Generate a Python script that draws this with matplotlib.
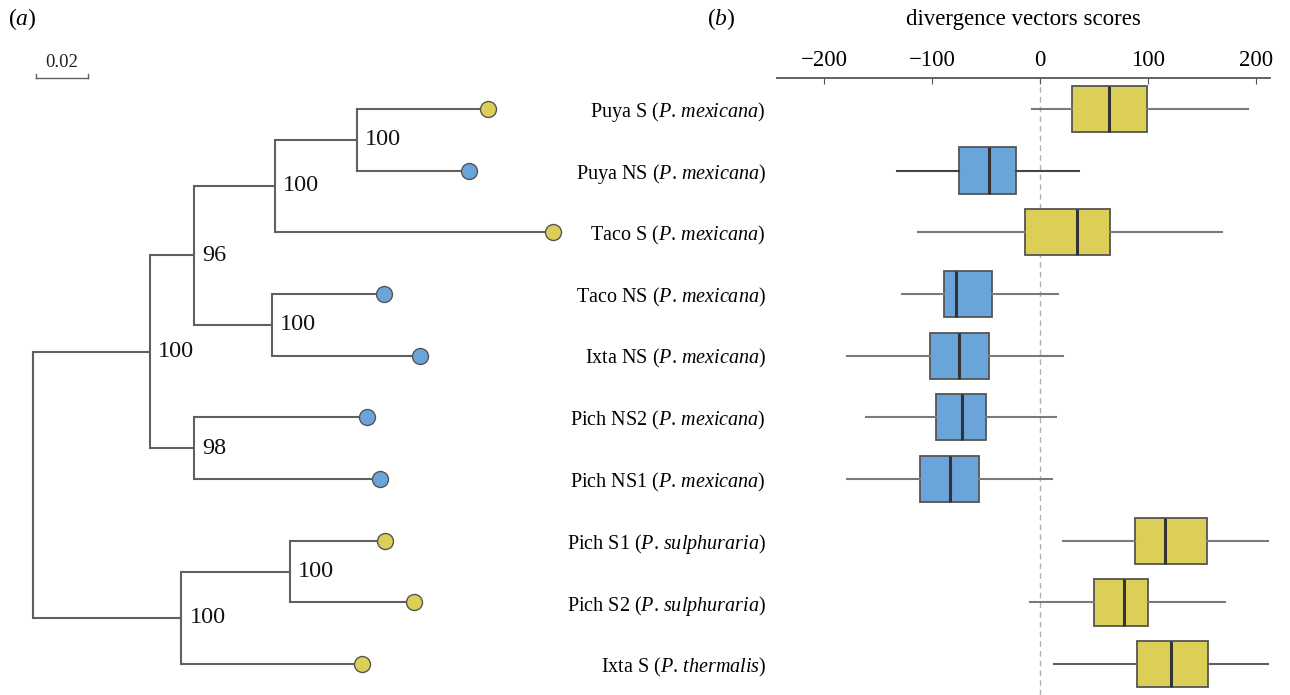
import matplotlib

matplotlib.use("Agg")
import matplotlib.pyplot as plt

plt.rcParams["font.family"] = ["Liberation Serif", "DejaVu Serif"]
plt.rcParams["mathtext.fontset"] = "custom"
plt.rcParams["mathtext.rm"] = "Liberation Serif"
plt.rcParams["mathtext.it"] = "Liberation Serif:italic"

# rows, top to bottom
POPS = ["Puya S", "Puya NS", "Taco S", "Taco NS", "Ixta NS",
        "Pich NS2", "Pich NS1", "Pich S1", "Pich S2", "Ixta S"]
SPECIES = ["mexicana"] * 7 + ["sulphuraria", "sulphuraria", "thermalis"]
HABITAT = ["S", "NS", "S", "NS", "NS", "NS", "NS", "S", "S", "S"]

# divergence vector score summaries
WHIS_LO = [-7, -132, -113, -128, -179, -161, -179, 21, -9, 13]
Q1 = [30, -75, -14, -89, -102, -96, -111, 88, 50, 90]
MED = [64, -47, 34, -78, -75, -72, -83, 116, 78, 121]
Q3 = [99, -22, 65, -44, -47, -50, -56, 155, 100, 156]
WHIS_HI = [193, 36, 169, 17, 21, 15, 11, 211, 171, 211]

# tree: tips are 0..9 (same order as rows), internal nodes 10..18
TIP_DEPTH = [0.175, 0.1677, 0.200, 0.135, 0.149, 0.1285, 0.1335, 0.1354, 0.1465, 0.1265]
NODE_CHILDREN = [(0, 1), (10, 2), (3, 4), (11, 12), (5, 6), (13, 14), (7, 8), (16, 9), (15, 17)]
NODE_DEPTH = [0.1246, 0.093, 0.0919, 0.062, 0.062, 0.045, 0.0988, 0.057, 0.0]
NODE_SUPPORT = ["100", "100", "100", "96", "98", "100", "100", "100", ""]

YELLOW = "#dccf58"
BLUE = "#6aa4d8"
COLS = {"S": YELLOW, "NS": BLUE}
LINE = "#606060"
WHISK = ["#7a7a7a", "#444444", "#7a7a7a", "#7a7a7a", "#7a7a7a",
         "#7a7a7a", "#7a7a7a", "#7a7a7a", "#7a7a7a", "#5e5e5e"]

fig = plt.figure(figsize=(12.9, 6.95), dpi=100)
H = 617 / 695

# ---- (a) tree
axt = fig.add_axes([0, 0, 600 / 1290, H])
axt.set_xlim(-33 / 2600, 567 / 2600)
axt.set_ylim(9.5, -0.5)
axt.axis("off")

xs = list(TIP_DEPTH) + NODE_DEPTH
ys = list(range(len(POPS))) + [0.0] * len(NODE_CHILDREN)
for i, (a, b) in enumerate(NODE_CHILDREN):
    n = 10 + i
    ys[n] = (ys[a] + ys[b]) / 2
    for c in (a, b):
        axt.plot([xs[n], xs[c]], [ys[c], ys[c]], color=LINE, lw=1.5, solid_capstyle="butt", zorder=1)
    axt.plot([xs[n], xs[n]], [ys[a], ys[b]], color=LINE, lw=1.5, solid_capstyle="projecting", zorder=1)
    if NODE_SUPPORT[i]:
        axt.annotate(NODE_SUPPORT[i], (xs[n], ys[n]), xytext=(6, 0), textcoords="offset points",
                     ha="left", va="center", fontsize=17.5, color="#111")

for i, h in enumerate(HABITAT):
    axt.plot(TIP_DEPTH[i], i, "o", ms=11.5, mfc=COLS[h], mec="#555", mew=1, zorder=3)

# scale bar
axt.plot([0.001, 0.021], [-0.5, -0.5], color=LINE, lw=1, clip_on=False)
for xb in (0.001, 0.021):
    axt.plot([xb, xb], [-0.5, -0.57], color=LINE, lw=1, clip_on=False)
axt.text(0.011, -0.62, "0.02", ha="center", va="bottom", fontsize=13.5, color="#222")

# ---- (b) boxplots
axb = fig.add_axes([777 / 1290, 0, 493 / 1290, H])
stats = [dict(whislo=WHIS_LO[i], q1=Q1[i], med=MED[i], q3=Q3[i], whishi=WHIS_HI[i], fliers=[])
         for i in range(len(POPS))]
bp = axb.bxp(stats, positions=range(len(POPS)), orientation="horizontal", widths=0.75,
             patch_artist=True, showcaps=False, showfliers=False,
             boxprops=dict(edgecolor="#555555", lw=1.3),
             medianprops=dict(color="#333333", lw=2.2),
             whiskerprops=dict(color="#777777", lw=1.5))
for patch, h in zip(bp["boxes"], HABITAT):
    patch.set_facecolor(COLS[h])
for i, w in enumerate(bp["whiskers"]):
    w.set_color(WHISK[i // 2])
axb.axvline(0, color="#b0b0b0", ls=(0, (4, 3)), lw=1, zorder=0)

axb.set_xlim(-243.5, 213)
axb.set_ylim(9.5, -0.5)
axb.xaxis.tick_top()
axb.xaxis.set_label_position("top")
axb.set_xticks([-200, -100, 0, 100, 200])
axb.set_xticklabels(["\u2212200", "\u2212100", "0", "100", "200"])
axb.tick_params(axis="x", direction="in", length=4, color="#555", labelsize=16.5, pad=5)
axb.set_xlabel("divergence vectors scores", fontsize=16.5, labelpad=18)
for s in ("bottom", "left", "right"):
    axb.spines[s].set_visible(False)
axb.spines["top"].set_color("#555")
axb.spines["top"].set_linewidth(1.3)

axb.set_yticks(range(len(POPS)))
axb.set_yticklabels([f"{p} ($\\it{{P}}$. $\\it{{{s}}}$)" for p, s in zip(POPS, SPECIES)])
axb.tick_params(axis="y", length=0, labelsize=14.5, pad=8)

fig.text(8 / 1290, 1 - 19 / 695, r"($\it{a}$)", fontsize=17, va="center", ha="left")
fig.text(707 / 1290, 1 - 19 / 695, r"($\it{b}$)", fontsize=17, va="center", ha="left")

fig.savefig("out.png", dpi=100)
